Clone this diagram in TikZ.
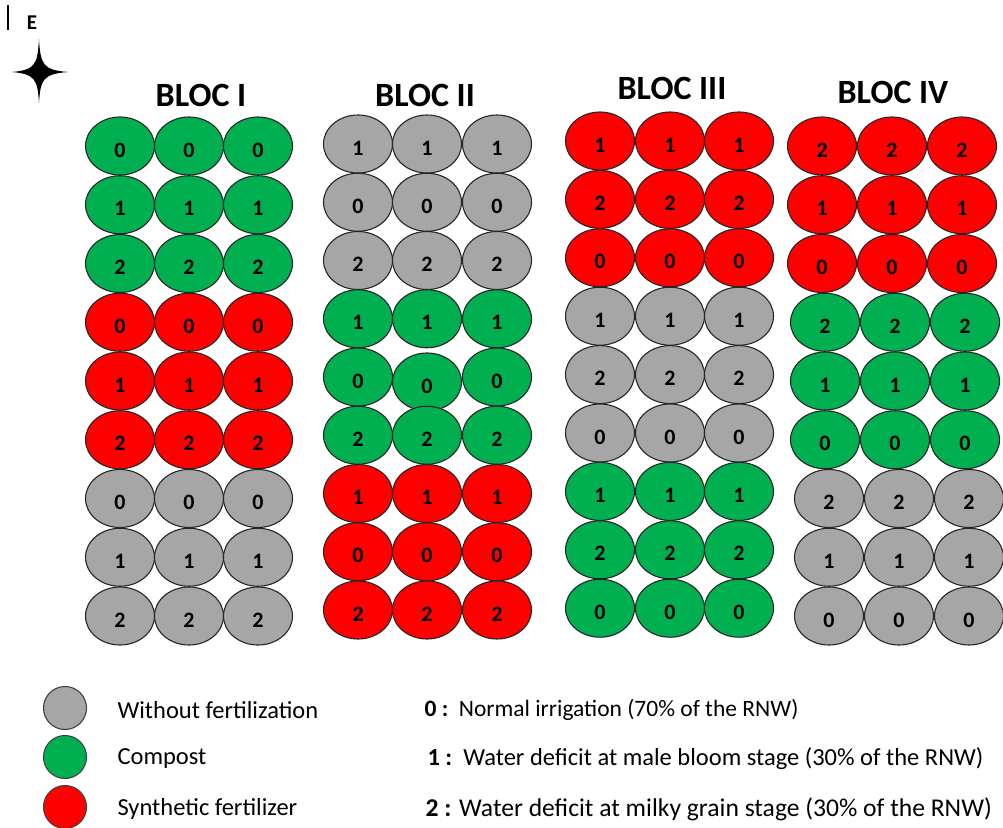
\documentclass[tikz,border=0pt]{standalone}
\usepackage{fontspec}
\setmainfont{Carlito}
\usetikzlibrary{shapes.geometric}
\definecolor{gris}{HTML}{A6A6A6}
\definecolor{vert}{HTML}{00B050}
\definecolor{rouge}{HTML}{FF0000}
\begin{document}
\begin{tikzpicture}[x=1pt,y=-1pt,
    parcelle/.style={draw=black!85,line width=1.1pt,ellipse,inner sep=0pt,
      minimum width=69pt,minimum height=58pt,text height=22pt,text depth=0pt,
      font=\fontsize{22}{22}\selectfont\bfseries},
    titre/.style={font=\fontsize{34}{34}\selectfont\bfseries},
    rond/.style={draw=black!75,line width=1.1pt,circle,inner sep=0pt,minimum size=43pt},
    legende/.style={anchor=west,font=\fontsize{24.5}{24.5}\selectfont}]
  \useasboundingbox (0,0) rectangle (1003,827);
  % Orientation
  \draw[line width=1.4pt] (8,5) -- (8,30);
  \node[font=\fontsize{21}{21}\selectfont\bfseries] (est) at (32,23) {E};
  \fill (39,39) .. controls (40.5,64) and (42.5,70) .. (68,72)
        .. controls (42.5,74) and (40.5,80) .. (39,103)
        .. controls (37.5,80) and (35.5,74) .. (12,72)
        .. controls (35.5,70) and (37.5,64) .. cycle;
  % Bloc I
  \node[titre] (t1) at (201,95) {BLOC I};
  \foreach \i/\k/\c in {0/0/vert,1/1/vert,2/2/vert,3/0/rouge,4/1/rouge,5/2/rouge,
                        6/0/gris,7/1/gris,8/2/gris}{
    \node[parcelle,fill=\c] (b1-\i-1) at (120,{146+58.75*\i}) {\k};
    \node[parcelle,fill=\c] (b1-\i-2) at (189,{146+58.75*\i}) {\k};
    \node[parcelle,fill=\c] (b1-\i-3) at (258,{146+58.75*\i}) {\k};
  }
  % Bloc II
  \node[titre] (t2) at (425,95) {BLOC II};
  \foreach \i/\k/\c/\d in {0/1/gris/0,1/0/gris/0,2/2/gris/0,3/1/vert/0,4/0/vert/5,
                           5/2/vert/0,6/1/rouge/0,7/0/rouge/0,8/2/rouge/0}{
    \node[parcelle,fill=\c] (b2-\i-1) at (358,{144+58.25*\i}) {\k};
    \node[parcelle,fill=\c] (b2-\i-2) at (427,{144+58.25*\i+\d}) {\k};
    \node[parcelle,fill=\c] (b2-\i-3) at (497,{144+58.25*\i}) {\k};
  }
  % Bloc III
  \node[titre] (t3) at (672,88) {BLOC III};
  \foreach \i/\k/\c in {0/1/rouge,1/2/rouge,2/0/rouge,3/1/gris,4/2/gris,5/0/gris,
                        6/1/vert,7/2/vert,8/0/vert}{
    \node[parcelle,fill=\c] (b3-\i-1) at (600,{141+58.4*\i}) {\k};
    \node[parcelle,fill=\c] (b3-\i-2) at (670,{141+58.4*\i}) {\k};
    \node[parcelle,fill=\c] (b3-\i-3) at (739,{141+58.4*\i}) {\k};
  }
  % Bloc IV
  \node[titre] (t4) at (893,92) {BLOC IV};
  \foreach \i/\k/\c/\dx in {0/2/rouge/0,1/1/rouge/0,2/0/rouge/0,3/2/vert/3,4/1/vert/3,
                            5/0/vert/3,6/2/gris/7,7/1/gris/7,8/0/gris/7}{
    \node[parcelle,fill=\c] (b4-\i-1) at ({822+\dx},{146+58.75*\i}) {\k};
    \node[parcelle,fill=\c] (b4-\i-2) at ({892+\dx},{146+58.75*\i}) {\k};
    \node[parcelle,fill=\c] (b4-\i-3) at ({962+\dx},{146+58.75*\i}) {\k};
  }
  % Legende
  \node[rond,fill=gris] (lg1) at (65,708) {};
  \node[rond,fill=vert] (lg2) at (65,757) {};
  \node[rond,fill=rouge] (lg3) at (65,807) {};
  \node[legende] (lt1) at (114,710) {Without fertilization};
  \node[legende] (lt2) at (114,759) {Compost};
  \node[legende] (lt3) at (114,809) {Synthetic fertilizer};
  \node[legende,font=\fontsize{23.5}{23.5}\selectfont] (li0) at (421,710)
    {\textbf{0 :}\ \ Normal irrigation (70\% of the RNW)};
  \node[legende,font=\fontsize{24.5}{24.5}\selectfont] (li1) at (424,759)
    {\textbf{1 :}\ \ Water deficit at male bloom stage (30\% of the RNW)};
  \node[legende,font=\fontsize{25.6}{25.6}\selectfont] (li2) at (422,809)
    {\textbf{2 :} Water deficit at milky grain stage (30\% of the RNW)};
\end{tikzpicture}
\end{document}
